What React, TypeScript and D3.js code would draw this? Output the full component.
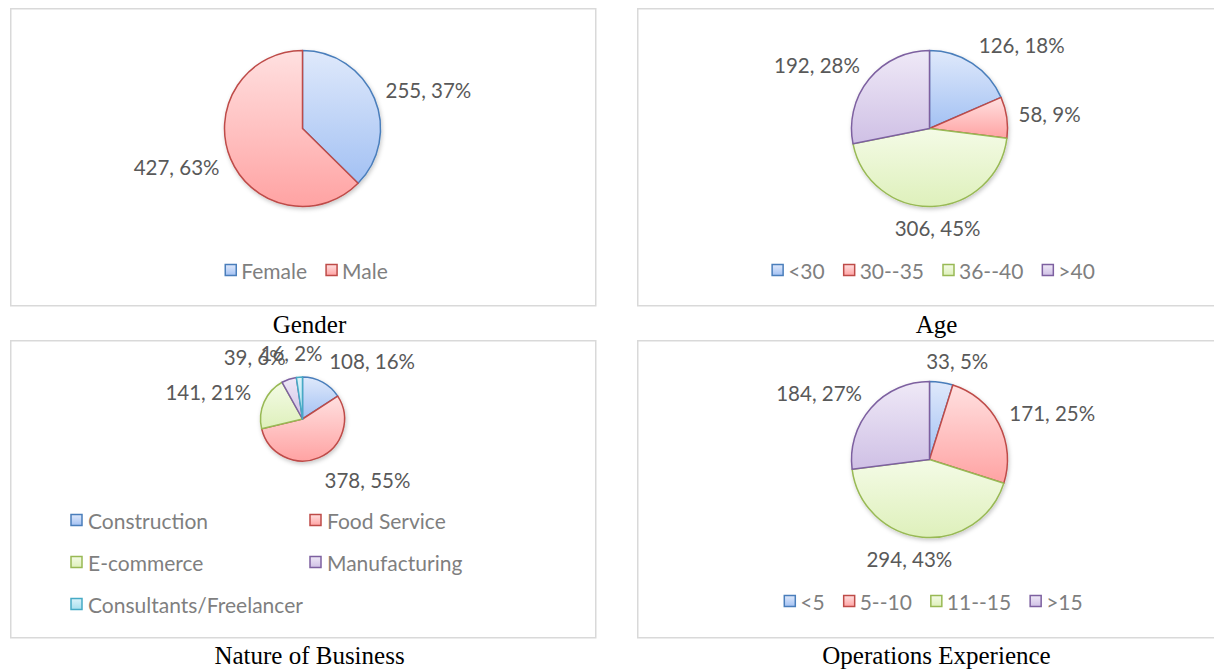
import React, { useEffect, useRef } from "react";
import * as d3 from "d3";

const genderCategories = ["Female", "Male"];
const genderValues = [255, 427];
const ageCategories = ["<30", "30--35", "36--40", ">40"];
const ageValues = [126, 58, 306, 192];
const businessCategories = ["Construction", "Food Service", "E-commerce", "Manufacturing", "Consultants/Freelancer"];
const businessValues = [108, 378, 141, 39, 16];
const experienceCategories = ["<5", "5--10", "11--15", ">15"];
const experienceValues = [33, 171, 294, 184];
const chartTitles = ["Gender", "Age", "Nature of Business", "Operations Experience"];

const palette = [
  { stroke: "#4a7ebb", top: "#dfe9fb", bottom: "#a3c1f3" },
  { stroke: "#be4b48", top: "#ffe0e0", bottom: "#ffa3a3" },
  { stroke: "#98b954", top: "#f4fbe6", bottom: "#def0bb" },
  { stroke: "#7d60a0", top: "#efe9f7", bottom: "#cfc0e5" },
  { stroke: "#46aac5", top: "#dcf3fa", bottom: "#a6dfee" },
];

const LABEL_FONT = "Lato, 'Noto Sans', sans-serif";
const TITLE_FONT = "'Liberation Serif', 'Times New Roman', serif";

export default function App() {
  const ref = useRef<SVGSVGElement | null>(null);

  useEffect(() => {
    const svg = d3.select(ref.current);
    svg.selectAll("*").remove();
    const defs = svg.append("defs");
    palette.forEach((p, i) => {
      const g = defs.append("linearGradient").attr("id", `grad${i}`).attr("x1", 0).attr("y1", 0).attr("x2", 0).attr("y2", 1);
      g.append("stop").attr("offset", "0%").attr("stop-color", p.top);
      g.append("stop").attr("offset", "100%").attr("stop-color", p.bottom);
    });
    const f = defs.append("filter").attr("id", "shadow").attr("x", "-20%").attr("y", "-20%").attr("width", "140%").attr("height", "140%");
    f.append("feDropShadow").attr("dx", 1).attr("dy", 2).attr("stdDeviation", 2).attr("flood-color", "#000").attr("flood-opacity", 0.22);

    const panelW = 585;
    const panelH = 298;
    const panels = [
      { x: 10, y: 8, cats: genderCategories, vals: genderValues, r: 78, gap: 12, cy: 120.5, legend: "row", ly: 262, title: chartTitles[0], ty: 333 },
      { x: 637, y: 8, cats: ageCategories, vals: ageValues, r: 78, gap: 12, cy: 120.5, legend: "row", ly: 262, title: chartTitles[1], ty: 333 },
      { x: 10, y: 340, cats: businessCategories, vals: businessValues, r: 42, gap: 14, cy: 79, legend: "grid", ly: 180, title: chartTitles[2], ty: 664 },
      { x: 637, y: 340, cats: experienceCategories, vals: experienceValues, r: 78, gap: 12, cy: 119.5, legend: "row", ly: 261, title: chartTitles[3], ty: 664 },
    ];

    panels.forEach((p) => {
      const g = svg.append("g").attr("transform", `translate(${p.x},${p.y})`);
      g.append("rect").attr("x", 0.75).attr("y", 0.75).attr("width", panelW).attr("height", panelH - 1)
        .attr("fill", "#fff").attr("stroke", "#d9d9d9").attr("stroke-width", 1.5);

      const cx = panelW / 2;
      const total = d3.sum(p.vals);
      const pie = d3.pie<number>().sort(null).value((d) => d);
      const arcs = pie(p.vals);
      const arc = d3.arc<d3.PieArcDatum<number>>().innerRadius(0).outerRadius(p.r);
      const pg = g.append("g").attr("transform", `translate(${cx},${p.cy})`);
      const slices = pg.append("g").attr("filter", "url(#shadow)");
      slices.selectAll("path").data(arcs).enter().append("path")
        .attr("d", arc)
        .attr("fill", (_d, i) => `url(#grad${i})`)
        .attr("stroke", (_d, i) => palette[i].stroke)
        .attr("stroke-width", 1.5)
        .attr("stroke-linejoin", "round");

      // data labels (outside end)
      arcs.forEach((a, i) => {
        const mid = (a.startAngle + a.endAngle) / 2;
        const s = Math.sin(mid);
        const c = Math.cos(mid);
        const px = (p.r + p.gap) * s;
        const py = -(p.r + p.gap) * c;
        const t = pg.append("text")
          .attr("font-family", LABEL_FONT)
          .attr("font-size", 20.5)
          .attr("fill", "#595959")
          .attr("text-anchor", "middle")
          .attr("dominant-baseline", "central")
          .text(`${p.vals[i]}, ${Math.round((p.vals[i] / total) * 100)}%`);
        const w = (t.node() as SVGTextElement).getComputedTextLength();
        const h = 20;
        const fx = Math.max(-1, Math.min(1, s * 3));
        t.attr("x", px + (fx * w) / 2).attr("y", py - (c * h) / 2);
      });

      // legend
      const markerSize = 11;
      const legendFont = 21;
      if (p.legend === "row") {
        const lg = g.append("g");
        let x = 0;
        const items: { el: any; x: number }[] = [];
        p.cats.forEach((cat, i) => {
          const item = lg.append("g");
          item.append("rect").attr("x", 0).attr("y", -markerSize / 2).attr("width", markerSize).attr("height", markerSize)
            .attr("fill", `url(#grad${i})`).attr("stroke", palette[i].stroke).attr("stroke-width", 1.5);
          const t = item.append("text").attr("x", markerSize + 5).attr("y", 0)
            .attr("font-family", LABEL_FONT).attr("font-size", legendFont).attr("fill", "#7f7f7f")
            .attr("dominant-baseline", "central").text(cat);
          const w = (t.node() as SVGTextElement).getComputedTextLength();
          items.push({ el: item, x });
          x += markerSize + 5 + w + 19;
        });
        const totalW = x - 19;
        const start = cx + 4 - totalW / 2;
        items.forEach((it) => it.el.attr("transform", `translate(${start + it.x},${p.ly})`));
      } else {
        const cols = [61, 300];
        const rows = [180, 222, 264];
        p.cats.forEach((cat, i) => {
          const item = g.append("g").attr("transform", `translate(${cols[i % 2]},${rows[Math.floor(i / 2)]})`);
          item.append("rect").attr("x", 0).attr("y", -markerSize / 2).attr("width", markerSize).attr("height", markerSize)
            .attr("fill", `url(#grad${i})`).attr("stroke", palette[i].stroke).attr("stroke-width", 1.5);
          item.append("text").attr("x", markerSize + 6).attr("y", 0)
            .attr("font-family", LABEL_FONT).attr("font-size", legendFont).attr("fill", "#7f7f7f")
            .attr("dominant-baseline", "central").text(cat);
        });
      }

      svg.append("text").attr("x", p.x + cx + 7).attr("y", p.ty)
        .attr("text-anchor", "middle").attr("font-family", TITLE_FONT).attr("font-size", 25)
        .attr("fill", "#000").text(p.title);
    });
  }, []);

  return (
    <svg
      ref={ref}
      width={1214}
      height={670}
      style={{ position: "absolute", left: 0, top: 0, display: "block", background: "#fff" }}
    />
  );
}
